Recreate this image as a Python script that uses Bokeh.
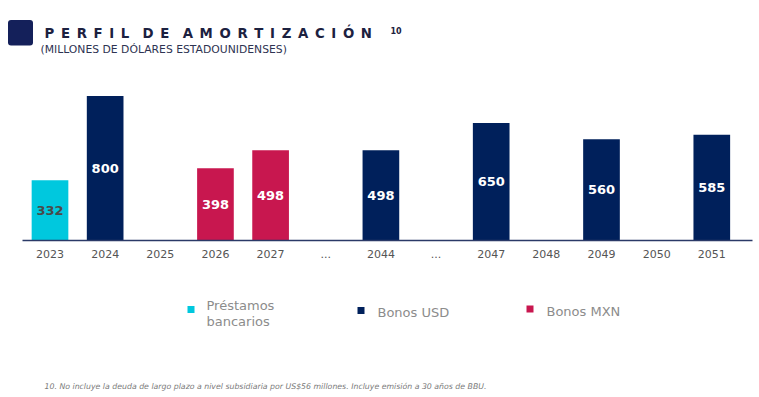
from bokeh.plotting import figure
from bokeh.models import Range1d, LinearAxis, FixedTicker
from bokeh.core.properties import value
from bokeh.embed import file_html
from bokeh.resources import INLINE

# ---- data ----
categories = ["2023", "2024", "2025", "2026", "2027", "...", "2044", "...",
              "2047", "2048", "2049", "2050", "2051"]
prestamos_bancarios = [332, None, None, None, None, None, None, None, None, None, None, None, None]
bonos_usd = [None, 800, None, None, None, None, 498, None, 650, None, 560, None, 585]
bonos_mxn = [None, None, None, 398, 498, None, None, None, None, None, None, None, None]

series_names = ["Préstamos\nbancarios", "Bonos USD", "Bonos MXN"]
series_values = [prestamos_bancarios, bonos_usd, bonos_mxn]
series_colors = ["#00C8DE", "#00205B", "#C8174F"]
label_colors = ["#4A4A4A", "#FFFFFF", "#FFFFFF"]

title_text = "PERFIL DE AMORTIZACIÓN"
title_sup = "10"
subtitle_text = "(MILLONES DE DÓLARES ESTADOUNIDENSES)"
footnote_text = ("10. No incluye la deuda de largo plazo a nivel subsidiaria por US$56 millones. "
                 "Incluye emisión a 30 años de BBU.")

W, H = 759, 397
p = figure(width=W, height=H, output_backend="svg", toolbar_location=None,
           x_range=Range1d(-0.8976, 12.865), y_range=Range1d(-875, 1330.6),
           x_axis_location=None, y_axis_location=None, min_border=0)
p.outline_line_color = None
p.background_fill_color = "white"
p.border_fill_color = "white"
p.grid.visible = False
p.extra_x_ranges = {"px": Range1d(0, W)}
p.extra_y_ranges = {"px": Range1d(H, 0)}

# bars + value labels
for vals, col, lcol in zip(series_values, series_colors, label_colors):
    xs = [i for i, v in enumerate(vals) if v is not None]
    ys = [v for v in vals if v is not None]
    p.vbar(x=xs, top=ys, bottom=0, width=0.665, fill_color=col, line_color=None)
    p.text(x=xs, y=[v / 2 for v in ys], text=[str(v) for v in ys],
           text_align="center", text_baseline="middle",
           text_font=value("DejaVu Sans"), text_font_style="bold",
           text_font_size="13px", text_color=lcol)

ax = LinearAxis(fixed_location=0, ticker=FixedTicker(ticks=list(range(len(categories)))),
                major_label_overrides={i: c for i, c in enumerate(categories)},
                bounds=(-0.4987, 12.74))
ax.axis_line_color = "#2B3A67"
ax.axis_line_width = 1.5
ax.major_tick_line_color = None
ax.minor_tick_line_color = None
ax.major_tick_out = 0
ax.major_tick_in = 0
ax.major_label_standoff = 10
ax.major_label_text_font = "DejaVu Sans"
ax.major_label_text_font_size = "11px"
ax.major_label_text_color = "#555555"
p.add_layout(ax, "below")

kw = dict(x_range_name="px", y_range_name="px")

# title block
p.quad(left=[7.5], right=[32.5], top=[19.5], bottom=[45], fill_color="#14205A",
       line_color=None, border_radius=3, **kw)
spaced = "\u2002\u2002".join("\u2002".join(w) for w in title_text.split(" "))
p.text(x=[44], y=[32.7], text=[spaced], text_font=value("DejaVu Sans"),
       text_font_style="bold", text_font_size="13.3px", text_color="#1C2140",
       text_baseline="alphabetic", **kw)
p.text(x=[390], y=[29.5], text=[title_sup], text_font=value("DejaVu Sans"),
       text_font_style="bold", text_font_size="8px", text_color="#1C2140",
       text_baseline="alphabetic", **kw)
p.text(x=[40], y=[48.5], text=[subtitle_text], text_font=value("DejaVu Sans"),
       text_font_size="10.8px", text_color="#2E3352", text_baseline="alphabetic", **kw)

# legend
sw_x = [187, 357, 526]
sw_y = [309, 310, 308.5]
txt_x = [206, 377, 546]
txt_y = [313.3, 311.5, 311]
p.quad(left=[x for x in sw_x], right=[x + 7 for x in sw_x],
       top=[y - 3.5 for y in sw_y], bottom=[y + 3.5 for y in sw_y],
       fill_color=series_colors, line_color=None, **kw)
p.text(x=txt_x, y=txt_y, text=series_names, text_font=value("DejaVu Sans"),
       text_font_size="13px", text_color="#8C8C8C", text_baseline="middle",
       text_line_height=1.05, **kw)

# footnote
p.text(x=[44], y=[385.7], text=[footnote_text], text_font=value("DejaVu Sans"),
       text_font_style="italic", text_font_size="7.8px", text_color="#7A7A7A",
       text_baseline="middle", **kw)

open("out.html", "w").write(file_html(p, INLINE))
